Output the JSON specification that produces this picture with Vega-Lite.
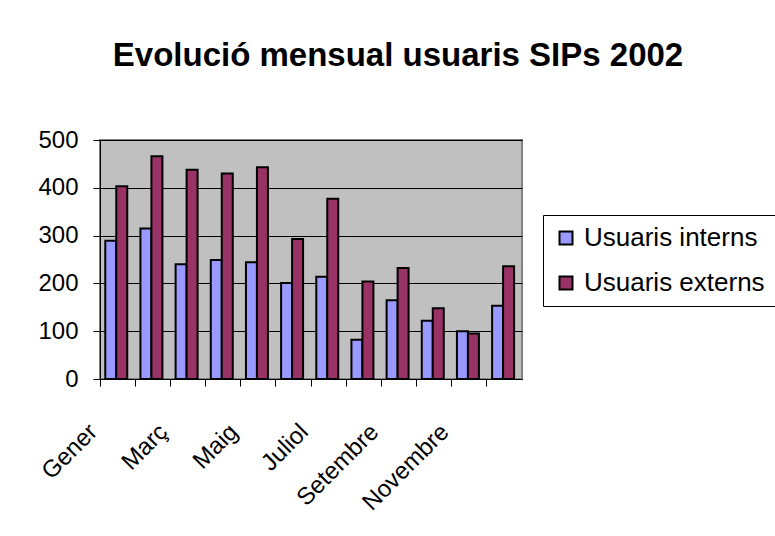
{
  "$schema": "https://vega.github.io/schema/vega-lite/v6.json",
  "autosize": "none",
  "width": 422,
  "height": 239,
  "padding": {"left": 100, "top": 140, "right": 253, "bottom": 157},
  "background": "white",
  "title": {
    "text": "Evolució mensual usuaris SIPs 2002",
    "font": "Liberation Sans",
    "fontSize": 33,
    "fontWeight": "bold",
    "color": "black",
    "anchor": "middle",
    "frame": "group",
    "dx": 87,
    "baseline": "alphabetic",
    "offset": 29
  },
  "config": {
    "font": "Liberation Sans",
    "view": {"fill": "#C0C0C0", "stroke": "#808080", "strokeWidth": 2}
  },
  "data": {
    "values": [
      {"mes": "Gener", "tipus": "Usuaris interns", "valor": 289},
      {"mes": "Gener", "tipus": "Usuaris externs", "valor": 403},
      {"mes": "Febrer", "tipus": "Usuaris interns", "valor": 315},
      {"mes": "Febrer", "tipus": "Usuaris externs", "valor": 466},
      {"mes": "Març", "tipus": "Usuaris interns", "valor": 240},
      {"mes": "Març", "tipus": "Usuaris externs", "valor": 438},
      {"mes": "Abril", "tipus": "Usuaris interns", "valor": 249},
      {"mes": "Abril", "tipus": "Usuaris externs", "valor": 430},
      {"mes": "Maig", "tipus": "Usuaris interns", "valor": 244},
      {"mes": "Maig", "tipus": "Usuaris externs", "valor": 443},
      {"mes": "Juny", "tipus": "Usuaris interns", "valor": 201},
      {"mes": "Juny", "tipus": "Usuaris externs", "valor": 293},
      {"mes": "Juliol", "tipus": "Usuaris interns", "valor": 214},
      {"mes": "Juliol", "tipus": "Usuaris externs", "valor": 377},
      {"mes": "Agost", "tipus": "Usuaris interns", "valor": 82},
      {"mes": "Agost", "tipus": "Usuaris externs", "valor": 204},
      {"mes": "Setembre", "tipus": "Usuaris interns", "valor": 165},
      {"mes": "Setembre", "tipus": "Usuaris externs", "valor": 232},
      {"mes": "Octubre", "tipus": "Usuaris interns", "valor": 122},
      {"mes": "Octubre", "tipus": "Usuaris externs", "valor": 148},
      {"mes": "Novembre", "tipus": "Usuaris interns", "valor": 100},
      {"mes": "Novembre", "tipus": "Usuaris externs", "valor": 95},
      {"mes": "Desembre", "tipus": "Usuaris interns", "valor": 153},
      {"mes": "Desembre", "tipus": "Usuaris externs", "valor": 236}
    ]
  },
  "mark": {"type": "bar", "stroke": "black", "strokeWidth": 2},
  "encoding": {
    "x": {
      "field": "mes",
      "type": "nominal",
      "sort": ["Gener", "Febrer", "Març", "Abril", "Maig", "Juny", "Juliol", "Agost", "Setembre", "Octubre", "Novembre", "Desembre"],
      "scale": {"paddingInner": 0, "paddingOuter": 0},
      "axis": {
        "title": null,
        "bandPosition": 0,
        "domainColor": "black",
        "domainWidth": 1,
        "tickColor": "black",
        "tickSize": 7,
        "tickWidth": 1,
        "labelAngle": -45,
        "labelAlign": "right",
        "labelBaseline": "middle",
        "labelFontSize": 24,
        "labelColor": "black",
        "labelPadding": 42,
        "labelOffset": -24,
        "labelOverlap": false,
        "labelExpr": "indexof(['Gener','Març','Maig','Juliol','Setembre','Novembre'], datum.value) >= 0 ? datum.label : ''"
      }
    },
    "xOffset": {
      "field": "tipus",
      "type": "nominal",
      "sort": ["Usuaris interns", "Usuaris externs"],
      "scale": {"paddingInner": 0, "paddingOuter": 0.6, "align": 0.4}
    },
    "y": {
      "field": "valor",
      "type": "quantitative",
      "scale": {"domain": [0, 500], "nice": false},
      "axis": {
        "title": null,
        "values": [0, 100, 200, 300, 400, 500],
        "grid": true,
        "gridColor": "black",
        "gridWidth": 1,
        "gridOpacity": 1,
        "domainColor": "black",
        "tickColor": "black",
        "tickSize": 7,
        "labelFontSize": 24,
        "labelColor": "black",
        "labelPadding": 15
      }
    },
    "color": {
      "field": "tipus",
      "type": "nominal",
      "scale": {"domain": ["Usuaris interns", "Usuaris externs"], "range": ["#9999FF", "#993366"]},
      "legend": {
        "title": null,
        "orient": "none",
        "legendX": 443,
        "legendY": 75,
        "padding": 10,
        "strokeColor": "black",
        "fillColor": "white",
        "symbolType": "square",
        "symbolSize": 169,
        "symbolStrokeColor": "black",
        "symbolStrokeWidth": 2,
        "symbolOpacity": 1,
        "labelFontSize": 26,
        "labelColor": "black",
        "labelOffset": 5,
        "rowPadding": 19,
        "labelLimit": 400
      }
    }
  }
}
